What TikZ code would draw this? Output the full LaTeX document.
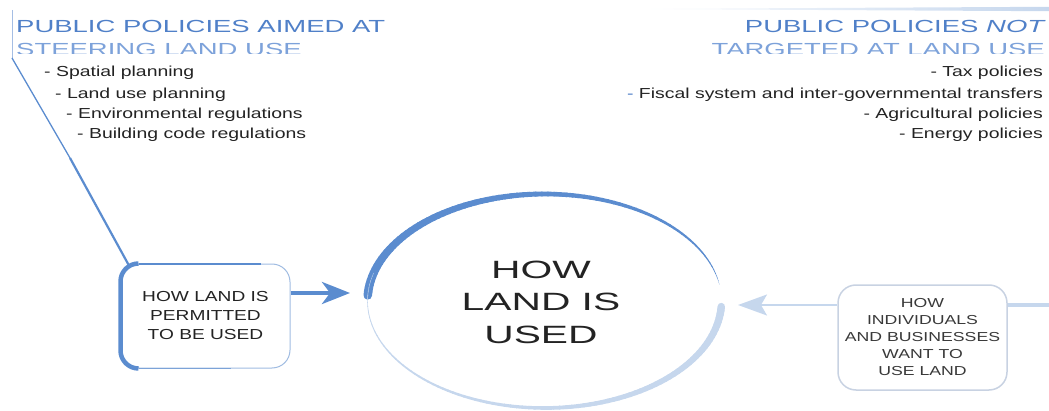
\documentclass[tikz,border=0pt]{standalone}
\usepackage{fontspec}
\setmainfont{Liberation Sans}
\newfontfamily\titlefont[FakeStretch=1.57]{Liberation Sans}
\newfontfamily\itemfont[FakeStretch=1.34]{Liberation Sans}
\newfontfamily\centerfont[FakeStretch=1.63]{Liberation Sans}
\newfontfamily\lboxfont[FakeStretch=1.32]{Liberation Sans}
\newfontfamily\rboxfont[FakeStretch=1.36]{Liberation Sans}
\usetikzlibrary{arrows.meta}
\definecolor{mainblue}{RGB}{91,140,207}
\definecolor{lightblue}{RGB}{198,215,237}
\definecolor{titleblue}{RGB}{80,128,200}
\definecolor{titleblueb}{RGB}{125,162,218}
\definecolor{darktext}{RGB}{35,35,35}
\definecolor{boxedge}{RGB}{160,188,226}
\definecolor{rboxedge}{RGB}{200,210,226}
\definecolor{vline}{RGB}{165,190,228}
\begin{document}
\begin{tikzpicture}[x=1pt,y=1pt,
  titletext/.style={inner sep=0pt, font=\titlefont\fontsize{17.5}{21}\selectfont},
  itemtext/.style={inner sep=0pt, text=darktext, font=\itemfont\fontsize{14.5}{18}\selectfont},
  centertext/.style={inner sep=0pt, align=center, text=darktext, font=\centerfont\fontsize{25}{32.5}\selectfont},
  lboxstyle/.style={draw=boxedge, line width=1pt, fill=white, rounded corners=18pt,
     minimum width=169pt, minimum height=104pt, inner sep=0pt, align=center, text=darktext,
     font=\lboxfont\fontsize{14.5}{19}\selectfont},
  rboxstyle/.style={draw=rboxedge, line width=1.5pt, fill=white, rounded corners=18pt,
     minimum width=169pt, minimum height=105pt, inner sep=0pt, align=center, text=darktext!90,
     font=\rboxfont\fontsize{13}{17}\selectfont},
  bigarrow/.style={mainblue, line width=4.5pt, -{Stealth[length=28pt,width=22pt,inset=8pt]}},
  lightarrow/.style={lightblue, line width=1.6pt, -{Stealth[length=29pt,width=21pt,inset=6pt]}}
]
\useasboundingbox (0,0) rectangle (1049,410);

% ellipse outline (tapered arcs)
\foreach \i in {0,...,83} {
  \pgfmathsetmacro\a{177-2*\i}
  \pgfmathsetmacro\b{\a-2.2}
  \pgfmathsetmacro\w{8.5*((\a-10)/167)^0.8}
  \draw[mainblue, line width=\w pt, line cap=round]
    (544.5,109) ++(\a:177pt and 107pt) arc[start angle=\a, end angle=\b, x radius=177pt, y radius=107pt];
}
\foreach \i in {0,...,95} {
  \pgfmathsetmacro\a{-3-2*\i}
  \pgfmathsetmacro\b{\a-2.2}
  \pgfmathsetmacro\w{0.3+7.2*((\a+194)/191)^1.3}
  \draw[lightblue, line width=\w pt, line cap=round]
    (544.5,109) ++(\a:177pt and 107pt) arc[start angle=\a, end angle=\b, x radius=177pt, y radius=107pt];
}
\node[centertext, anchor=base] (used) at (541,67) {HOW\\LAND IS\\USED};

% titles
\node[titletext, text=titleblue, anchor=base west] (tl1) at (16,377) {PUBLIC POLICIES AIMED AT};
\node[titletext, text=titleblue, anchor=base east] (tr1) at (1046,377.5) {PUBLIC POLICIES \textit{NOT}};
\begin{scope}
  \clip (0,356.5) rectangle (1049,410);
  \node[titletext, text=titleblueb, anchor=base west] (tl2) at (16,354) {STEERING LAND USE};
  \node[titletext, text=titleblueb, anchor=base east] (tr2) at (1045,354.5) {TARGETED AT LAND USE};
\end{scope}

% left items
\node[itemtext, anchor=base west] (l1) at (44,333) {- Spatial planning};
\node[itemtext, anchor=base west] (l2) at (55,311.5) {- Land use planning};
\node[itemtext, anchor=base west] (l3) at (66,291) {- Environmental regulations};
\node[itemtext, anchor=base west] (l4) at (77,271) {- Building code regulations};
% right items
\node[itemtext, anchor=base east] (r1) at (1043,333) {- Tax policies};
\node[itemtext, anchor=base east] (r2) at (1043,311.5) {{\color{titleblue}-} Fiscal system and inter-governmental transfers};
\node[itemtext, anchor=base east] (r3) at (1043,291) {- Agricultural policies};
\node[itemtext, anchor=base east] (r4) at (1043,271) {- Energy policies};

% top right rule
\shade[left color=white, right color=lightblue] (625,401) -- (1049,403.2) -- (1049,398.8) -- cycle;

% left box and connectors
\node[lboxstyle] (perm) at (205.5,94) {HOW LAND IS\\PERMITTED\\TO BE USED};
\draw[mainblue, line width=4.5pt] ([xshift=18pt]perm.north west) arc[start angle=90,end angle=180,radius=18pt]
   -- ([yshift=18pt]perm.south west) arc[start angle=180,end angle=270,radius=18pt];
\draw[mainblue, line width=2pt] ([xshift=18pt]perm.north west) -- ([xshift=-30pt]perm.north east);
\draw[mainblue!80, line width=1.5pt] ([xshift=18pt]perm.south west) -- ([xshift=-60pt]perm.south east);
\coordinate (c1) at (12,400);
\coordinate (c2) at (12,352);
\coordinate (c3) at (70,252);
\draw[vline, line width=1pt] (c1) -- (c2);
\draw[mainblue, line width=1.3pt] (c2) -- (c3);
\draw[mainblue, line width=2.2pt] (c3) -- ([xshift=9pt,yshift=-3pt]perm.north west);
\coordinate (la) at (350,117);
\draw[bigarrow] (perm.east |- la) -- (la);

% right box and connectors
\coordinate (rend) at (1049,105);
\node[rboxstyle] (rbox) at (922.5,72.5) {HOW\\INDIVIDUALS\\AND BUSINESSES\\WANT TO\\USE LAND};
\draw[lightblue, line width=3.5pt] (rbox.east |- rend) -- (rend);
\coordinate (ra) at (738,105);
\draw[lightarrow] (rbox.west |- ra) -- (ra);
\end{tikzpicture}
\end{document}
